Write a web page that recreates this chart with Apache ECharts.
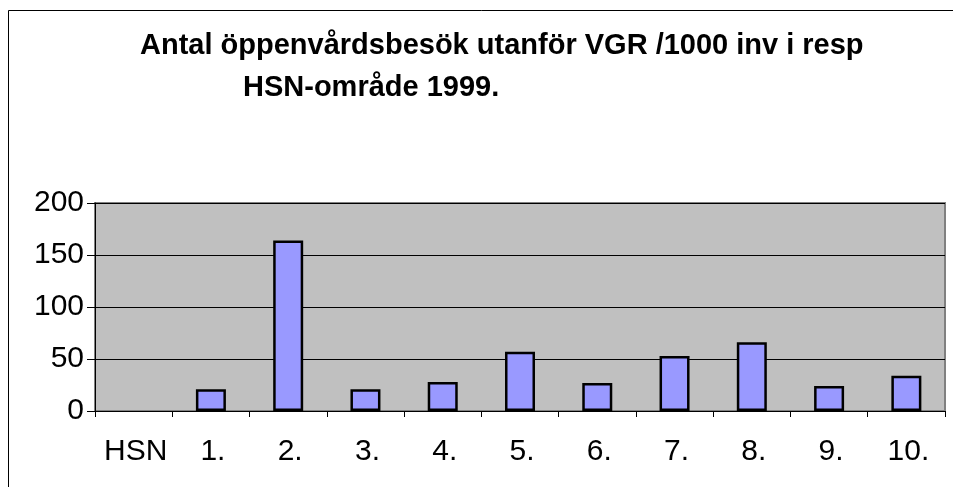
<!DOCTYPE html>
<html>
<head>
<meta charset="utf-8">
<script src="https://cdn.jsdelivr.net/npm/echarts@6/dist/echarts.min.js"></script>
<style>
html,body{margin:0;padding:0;background:#fff;}
#c{width:953px;height:487px;}
</style>
</head>
<body>
<div id="c"></div>
<script>
var categories = ['HSN', '1.', '2.', '3.', '4.', '5.', '6.', '7.', '8.', '9.', '10.'];
var values = [0, 21, 164, 21, 28, 57, 27, 53, 66, 24, 34];
var yTicks = [0, 50, 100, 150, 200];
var titleLines = ['Antal öppenvårdsbesök utanför VGR /1000 inv i resp', 'HSN-område 1999.'];

var chart = echarts.init(document.getElementById('c'), null, {renderer: 'canvas'});
var font = 'Liberation Sans, Arial, sans-serif';
var barData = values.map(function (v) {
  return v === 0 ? {value: v, itemStyle: {borderWidth: 0, color: 'transparent'}} : v;
});
chart.setOption({
  animation: false,
  backgroundColor: '#ffffff',
  graphic: [
    {type: 'rect', shape: {x: 8.5, y: 10.5, width: 1000, height: 600}, style: {fill: 'none', stroke: '#000', lineWidth: 1}, z: 0},
    {type: 'text', x: 140, y: 46, style: {text: titleLines[0], font: 'bold 29px ' + font, fill: '#000', verticalAlign: 'middle', align: 'left'}},
    {type: 'text', x: 243, y: 88, style: {text: titleLines[1], font: 'bold 29px ' + font, fill: '#000', verticalAlign: 'middle', align: 'left'}}
  ],
  grid: {left: 95, right: 8, top: 203, bottom: 76, show: true, backgroundColor: '#C0C0C0', borderColor: '#808080', borderWidth: 2},
  xAxis: {
    type: 'category',
    data: categories,
    axisLine: {show: true, lineStyle: {color: '#000', width: 1}},
    axisTick: {show: true, length: 6, lineStyle: {color: '#000'}},
    axisLabel: {color: '#000', fontSize: 30, fontFamily: font, margin: 26, interval: 0, padding: [0, 0, 0, 4]}
  },
  yAxis: {
    type: 'value',
    min: yTicks[0], max: yTicks[yTicks.length - 1], interval: 50,
    axisLine: {show: true, lineStyle: {color: '#000', width: 1}},
    axisTick: {show: true, length: 8, lineStyle: {color: '#000'}},
    splitLine: {show: true, lineStyle: {color: '#000', width: 1}},
    axisLabel: {color: '#000', fontSize: 30, fontFamily: font, margin: 11, padding: [9, 0, 0, 0]}
  },
  series: [{
    type: 'bar',
    data: barData,
    barWidth: 30,
    itemStyle: {color: '#9999FF', borderColor: '#000', borderWidth: 2.5}
  }]
});
</script>
</body>
</html>
